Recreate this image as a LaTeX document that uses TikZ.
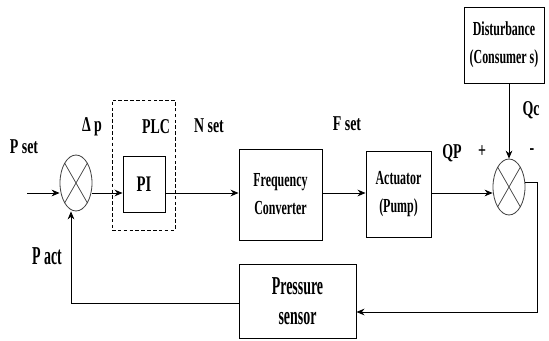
\documentclass[tikz,border=0pt]{standalone}
\usepackage{fontspec}
\setmainfont{Liberation Serif}[FakeStretch=0.66]
\newfontfamily\boxfont{Liberation Serif}[FakeStretch=0.6]
\newfontfamily\condfont{Liberation Serif}[FakeStretch=0.54]
\usetikzlibrary{arrows.meta,shapes.geometric}

\begin{document}
\begin{tikzpicture}[
  x=0.3mm, y=-0.3mm,
  >={Stealth[length=2.4mm,width=2mm]},
  line width=0.7pt,
  block/.style={draw, line width=0.8pt, align=center, inner sep=0pt,
    font=\boxfont\fontsize{17}{24}\selectfont\bfseries},
  bigblock/.style={block, font=\condfont\fontsize{22}{26}\selectfont\bfseries},
  sumjunc/.style={draw=black!75, ellipse, inner sep=0pt,
    minimum width=9.6mm, minimum height=16.8mm,
    path picture={\draw[black!75, line width=0.6pt]
      (path picture bounding box.north west) -- (path picture bounding box.south east)
      (path picture bounding box.north east) -- (path picture bounding box.south west);}},
  lab/.style={font=\fontsize{18}{20}\selectfont\bfseries},
  biglab/.style={font=\condfont\fontsize{22}{26}\selectfont\bfseries}
]
\useasboundingbox (0,0) rectangle (549,341);
% ---- summing points ----
\node[sumjunc] (sum1) at (76,183) {};
\node[sumjunc] (sum2) at (509,187) {};
% ---- controller ----
\node[draw, dashed, dash pattern=on 3pt off 2pt, minimum width=18.9mm,
  minimum height=39mm] (plc) at (143.5,165) {};
\node[block, font=\fontsize{19}{20}\selectfont\bfseries,
  minimum width=12.6mm, minimum height=16.8mm] (pi) at (144,184) {PI};
% ---- plant blocks ----
\node[block, minimum width=24.9mm, minimum height=27.3mm] (conv)
  at (280.5,194.5) {Frequency\\Converter};
\node[block, minimum width=19.5mm, minimum height=25.8mm] (pump)
  at (398.5,194) {Actuator\\(Pump)};
\node[block, minimum width=24mm, minimum height=22.8mm] (dist)
  at (504,45) {Disturbance\\(Consumer s)};
\node[bigblock, minimum width=35.1mm, minimum height=22.2mm] (sensor)
  at (297.5,301) {Pressure\\sensor};
% ---- signal labels ----
\node[lab] (pset) at (24,147) {P set};
\node[lab] (dp) at (92,127) {Δ p};
\node[lab] (plclab) at (156,127) {PLC};
\node[lab] (nset) at (209,126) {N set};
\node[lab] (fset) at (347,124) {F set};
\node[lab] (qp) at (452,153) {QP};
\node[lab] (plus) at (482,152) {+};
\node[lab] (minus) at (532,152) {-};
\node[lab] (qc) at (531,110) {Qc};
\node[biglab] (pact) at (47,256) {P act};
% ---- forward path ----
\coordinate (sig) at (0,193);
\coordinate (in) at (27,193);
\draw[->] (in) -- (sum1.west |- sig);
\draw[->] (sum1.east |- sig) -- (pi.west |- sig);
\draw[->] (pi.east |- sig) -- (conv.west |- sig);
\draw[->] (conv.east |- sig) -- (pump.west |- sig);
\draw[->] (pump.east |- sig) -- (sum2.west |- sig);
\draw[->] (sum2.north |- dist.south) -- (sum2.north);
% ---- feedback path ----
\coordinate (qout) at (537,182);
\coordinate (sensin) at (0,312);
\coordinate (fbl) at (71,303);
\draw[->] (sum2.east |- qout) -- (qout) -- (qout |- sensin)
  -- (sensor.east |- sensin);
\draw[->] (sensor.west |- fbl) -- (fbl) -- (fbl |- sum1.south);
\end{tikzpicture}
\end{document}
